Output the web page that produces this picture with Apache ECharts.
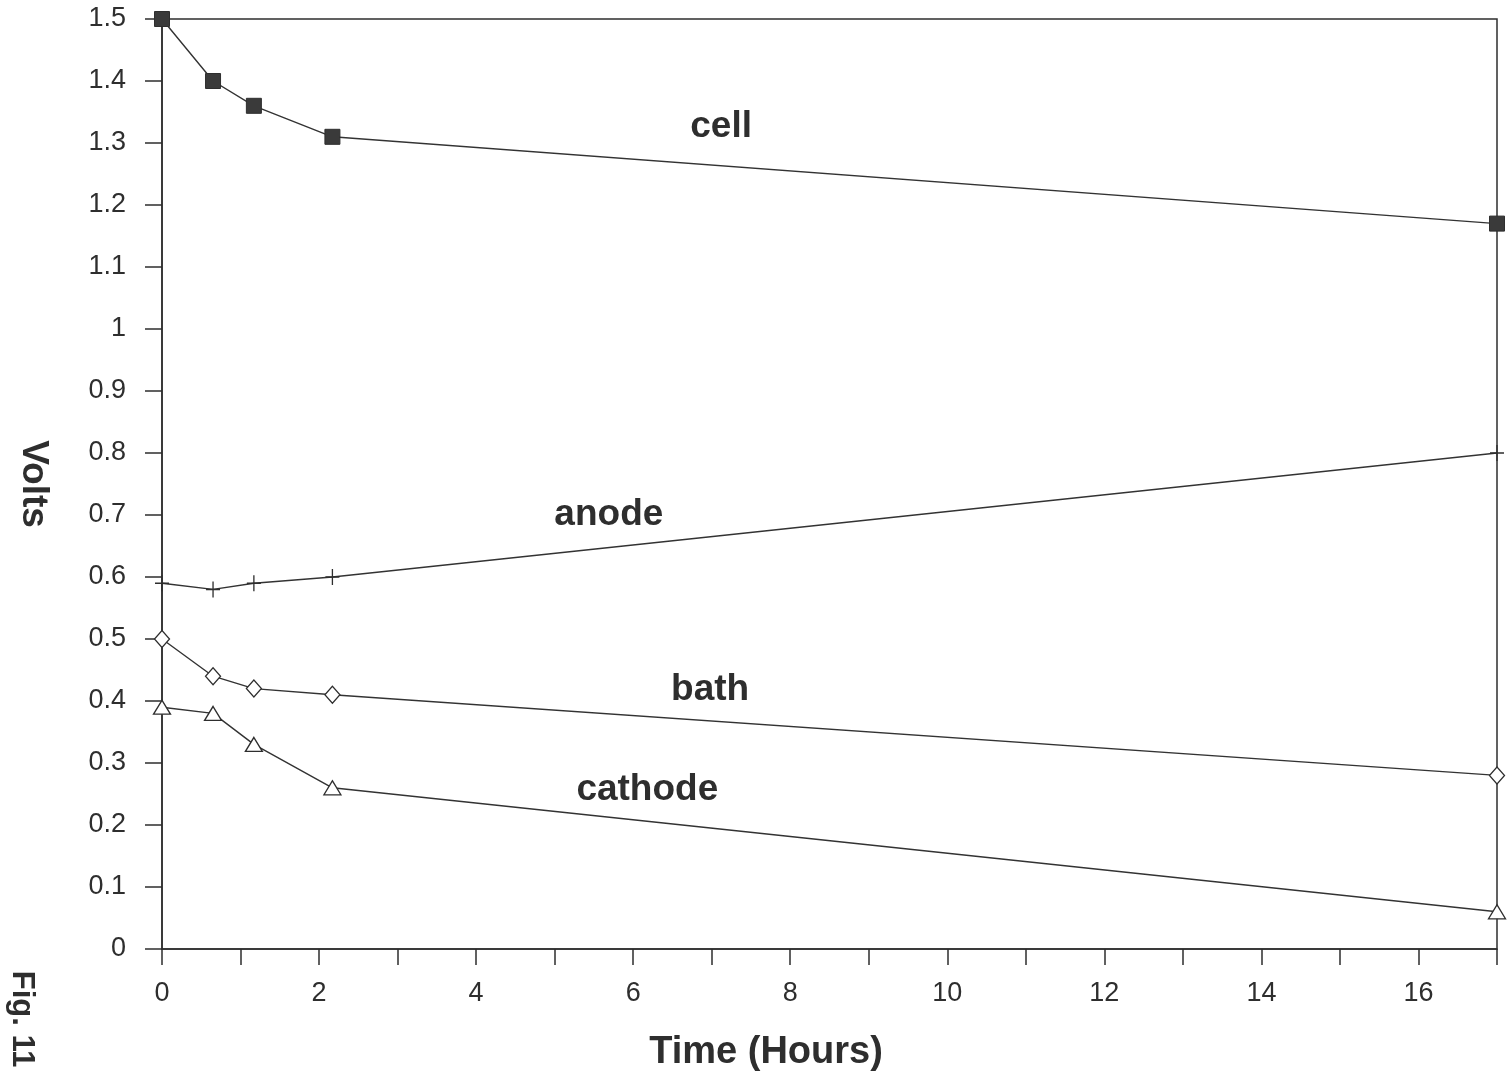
<!DOCTYPE html>
<html>
<head>
<meta charset="utf-8">
<script src="https://cdn.jsdelivr.net/npm/echarts@6/dist/echarts.min.js"></script>
<style>
  html, body { margin: 0; padding: 0; background: #fff; }
  #chart { width: 1508px; height: 1081px; }
</style>
</head>
<body>
<div id="chart"></div>
<script>
// time in hours
const hours = [0, 0.65, 1.17, 2.17, 17];
// volts per curve
const cellV = [1.5, 1.4, 1.36, 1.31, 1.17];
const anodeV = [0.59, 0.58, 0.59, 0.6, 0.8];
const bathV = [0.5, 0.44, 0.42, 0.41, 0.28];
const cathodeV = [0.39, 0.38, 0.33, 0.26, 0.06];
// curve names written inside the plot (data coords)
const labelNames = ["cell", "anode", "bath", "cathode"];
const labelX = [7.12, 5.69, 6.98, 6.18];
const labelY = [1.326, 0.70, 0.418, 0.256];

const ink = "#2e2e2e";
const font = "Liberation Sans, Arial, Helvetica, sans-serif";

const pairs = (ys) => hours.map((h, i) => [h, ys[i]]);

const chart = echarts.init(document.getElementById("chart"));

const lineBase = {
  type: "line",
  lineStyle: { color: "#333", width: 1.4 },
  animation: false,
  z: 3,
};

const option = {
  backgroundColor: "#fff",
  grid: {
    left: 162,
    right: 11,
    top: 19,
    bottom: 132,
    show: true,
    borderColor: ink,
    borderWidth: 1.5,
    outerBoundsMode: "none",
  },
  xAxis: {
    type: "value",
    min: 0,
    max: 17,
    interval: 1,
    axisLine: { lineStyle: { color: ink, width: 1.5 } },
    axisTick: { show: true, length: 16, lineStyle: { color: ink, width: 1.5 } },
    splitLine: { show: false },
    axisLabel: {
      margin: 31,
      color: ink,
      fontFamily: font,
      fontSize: 27,
      formatter: (v) => (v % 2 === 0 ? String(v) : ""),
    },
  },
  yAxis: {
    type: "value",
    min: 0,
    max: 1.5,
    interval: 0.1,
    name: "Volts",
    nameLocation: "middle",
    nameRotate: -90,
    nameGap: 110,
    nameTextStyle: { color: ink, fontFamily: font, fontSize: 37, fontWeight: "bold" },
    axisLine: { show: true, lineStyle: { color: ink, width: 1.5 } },
    axisTick: { show: true, length: 17, lineStyle: { color: ink, width: 1.5 } },
    splitLine: { show: false },
    axisLabel: {
      margin: 36,
      color: ink,
      fontFamily: font,
      fontSize: 27,
    },
  },
  series: [
    Object.assign({}, lineBase, {
      name: "cell",
      data: pairs(cellV),
      symbol: "rect",
      symbolSize: 15,
      itemStyle: { color: "#3a3a3a", borderColor: ink, borderWidth: 1 },
    }),
    Object.assign({}, lineBase, {
      name: "anode",
      data: pairs(anodeV),
      symbol: "path://M5,0L5,10M0,5L10,5",
      symbolSize: [14, 16],
      itemStyle: { color: "none", borderColor: ink, borderWidth: 1.4 },
    }),
    Object.assign({}, lineBase, {
      name: "bath",
      data: pairs(bathV),
      symbol: "diamond",
      symbolSize: [15, 17],
      itemStyle: { color: "#fff", borderColor: ink, borderWidth: 1.3 },
    }),
    Object.assign({}, lineBase, {
      name: "cathode",
      data: pairs(cathodeV),
      symbol: "triangle",
      symbolSize: [17, 14],
      itemStyle: { color: "#fff", borderColor: ink, borderWidth: 1.3 },
    }),
    {
      type: "scatter",
      name: "labels",
      symbolSize: 0,
      animation: false,
      silent: true,
      itemStyle: { opacity: 1 },
      data: labelNames.map((n, i) => ({ value: [labelX[i], labelY[i]], name: n })),
      label: {
        show: true,
        position: "inside",
        formatter: (p) => p.name,
        color: ink,
        opacity: 1,
        fontFamily: font,
        fontSize: 37,
        fontWeight: "bold",
      },
    },
  ],
  graphic: [
    {
      type: "text",
      x: 766,
      y: 1053,
      style: {
        text: "Time (Hours)",
        fill: ink,
        font: "bold 38px " + font,
        align: "center",
        verticalAlign: "middle",
      },
    },
    {
      type: "text",
      x: 22,
      y: 1019,
      rotation: -Math.PI / 2,
      style: {
        text: "Fig. 11",
        fill: ink,
        font: "bold 31px " + font,
        align: "center",
        verticalAlign: "middle",
      },
    },
  ],
};

chart.setOption(option);
</script>
</body>
</html>
